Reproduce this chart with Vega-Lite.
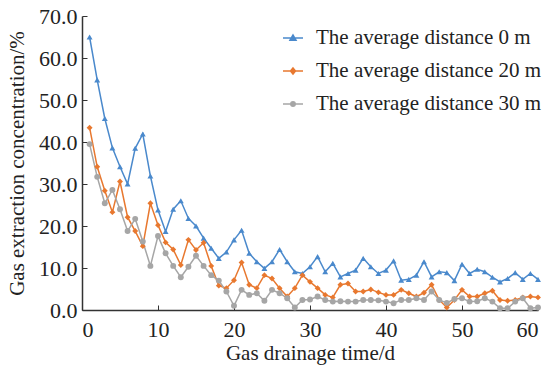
{
  "$schema": "https://vega.github.io/schema/vega-lite/v6.json",
  "width": 456,
  "height": 294,
  "autosize": {"type": "none"},
  "padding": {"left": 82, "top": 16, "right": 13, "bottom": 61},
  "background": "white",
  "config": {
    "view": {"stroke": null},
    "font": "Liberation Serif",
    "axis": {
      "grid": false,
      "domainColor": "#333333",
      "tickColor": "#333333",
      "domainWidth": 1.5,
      "labelFont": "Liberation Serif",
      "labelFontSize": 22,
      "labelColor": "#222222",
      "titleFont": "Liberation Serif",
      "titleFontSize": 21,
      "titleFontWeight": "normal",
      "titleColor": "#222222"
    }
  },
  "data": {
    "values": [
      {"d":1,"a":65,"b":43.4,"c":39.5},
      {"d":2,"a":54.8,"b":34.1,"c":31.7},
      {"d":3,"a":45.6,"b":28.4,"c":25.4},
      {"d":4,"a":38.6,"b":23.3,"c":28.6},
      {"d":5,"a":34.1,"b":30.6,"c":24},
      {"d":6,"a":30,"b":22.1,"c":18.8},
      {"d":7,"a":38.5,"b":18.8,"c":21.7},
      {"d":8,"a":41.9,"b":15.2,"c":16.3},
      {"d":9,"a":31.9,"b":25.4,"c":10.5},
      {"d":10,"a":23.8,"b":20.2,"c":17.6},
      {"d":11,"a":18.7,"b":16.1,"c":13.5},
      {"d":12,"a":24,"b":14.4,"c":10.5},
      {"d":13,"a":26,"b":10.7,"c":7.8},
      {"d":14,"a":21.8,"b":16.7,"c":10.3},
      {"d":15,"a":20,"b":14.3,"c":12.9},
      {"d":16,"a":17.1,"b":16,"c":10.5},
      {"d":17,"a":14.7,"b":10.5,"c":8.3},
      {"d":18,"a":12.3,"b":5.8,"c":7},
      {"d":19,"a":13.8,"b":5.2,"c":4.4},
      {"d":20,"a":16.7,"b":7.1,"c":1},
      {"d":21,"a":19,"b":11.3,"c":4.8},
      {"d":22,"a":13.5,"b":6,"c":3.6},
      {"d":23,"a":11.5,"b":5.2,"c":4},
      {"d":24,"a":9.9,"b":8.3,"c":2.2},
      {"d":25,"a":11.5,"b":7.5,"c":4.8},
      {"d":26,"a":14.4,"b":5.2,"c":4},
      {"d":27,"a":11.5,"b":3.2,"c":2.8},
      {"d":28,"a":9.1,"b":5.2,"c":0.6},
      {"d":29,"a":8.7,"b":8.3,"c":2.4},
      {"d":30,"a":10.3,"b":6.7,"c":2.5},
      {"d":31,"a":12.7,"b":5.2,"c":3.2},
      {"d":32,"a":9.1,"b":3.6,"c":2.4},
      {"d":33,"a":11.1,"b":3,"c":2},
      {"d":34,"a":7.9,"b":6,"c":2.1},
      {"d":35,"a":8.7,"b":6.3,"c":2},
      {"d":36,"a":9.5,"b":4.4,"c":2},
      {"d":37,"a":12.3,"b":4.4,"c":2.4},
      {"d":38,"a":10.3,"b":4.9,"c":2.4},
      {"d":39,"a":8.7,"b":4.2,"c":2.3},
      {"d":40,"a":9.5,"b":3.6,"c":2},
      {"d":41,"a":11.7,"b":3.6,"c":1.6},
      {"d":42,"a":7.1,"b":4.8,"c":2.4},
      {"d":43,"a":7.3,"b":4,"c":2.4},
      {"d":44,"a":8.3,"b":3.2,"c":2.8},
      {"d":45,"a":11.5,"b":4.1,"c":2.4},
      {"d":46,"a":7.9,"b":6,"c":4.4},
      {"d":47,"a":9.1,"b":2.4,"c":2.4},
      {"d":48,"a":8.9,"b":0.6,"c":1.7},
      {"d":49,"a":7,"b":2.4,"c":2.6},
      {"d":50,"a":10.9,"b":4.8,"c":2.8},
      {"d":51,"a":8.7,"b":3.2,"c":2},
      {"d":52,"a":9.7,"b":3.2,"c":2.1},
      {"d":53,"a":9.1,"b":4,"c":2.8},
      {"d":54,"a":7.8,"b":4.6,"c":2},
      {"d":55,"a":6.7,"b":2.4,"c":0.4},
      {"d":56,"a":7.5,"b":2.2,"c":0.4},
      {"d":57,"a":8.9,"b":2.4,"c":2},
      {"d":58,"a":7.3,"b":3,"c":2.8},
      {"d":59,"a":8.7,"b":3.2,"c":0.4},
      {"d":60,"a":7.3,"b":3,"c":0.6}
    ]
  },
  "transform": [
    {"fold": ["a", "b", "c"], "as": ["k", "value"]},
    {"lookup": "k", "from": {"data": {"values": [
      {"k": "a", "series": "The average distance 0 m"},
      {"k": "b", "series": "The average distance 20 m"},
      {"k": "c", "series": "The average distance 30 m"}
    ]}, "key": "k", "fields": ["series"]}}
  ],
  "encoding": {
    "x": {
      "field": "d", "type": "quantitative",
      "scale": {"domain": [0, 60], "nice": false},
      "axis": {"values": [0,10,20,30,40,50,60], "tickSize": -5, "labelPadding": 14, "labelFont": "Liberation Serif", "title": "Gas drainage time/d", "titlePadding": 2}
    },
    "y": {
      "field": "value", "type": "quantitative",
      "scale": {"domain": [0, 70], "nice": false},
      "axis": {"values": [0,10,20,30,40,50,60,70], "format": ".1f", "tickSize": -5, "labelPadding": 10, "labelFont": "Liberation Serif", "title": "Gas extraction concentration/%", "titlePadding": 11}
    },
    "color": {
      "field": "series", "type": "nominal",
      "scale": {"domain": ["The average distance 0 m", "The average distance 20 m", "The average distance 30 m"], "range": ["#4A89CC", "#E8782F", "#A6A6A6"]},
      "legend": {
        "orient": "none", "legendX": 200, "legendY": 11, "title": null,
        "labelFont": "Liberation Serif", "labelFontSize": 21, "labelColor": "#222222", "labelLimit": 0,
        "symbolSize": 400, "symbolStrokeWidth": 1.5, "rowPadding": 12, "labelOffset": 12,
        "encode": {"symbols": {"update": {"shape": {"signal": "datum.value === 'The average distance 0 m' ? 'M-1,0H1M-0.3,0.22L0,-0.3L0.3,0.22Z' : datum.value === 'The average distance 20 m' ? 'M-1,0H1M0,-0.3L0.25,0L0,0.3L-0.25,0Z' : 'M-1,0H1M-0.22,0A0.22,0.22,0,1,0,0.22,0A0.22,0.22,0,1,0,-0.22,0Z'"}, "fill": {"scale": "color", "field": "value"}}}}
      }
    }
  },
  "layer": [
    {"mark": {"type": "line", "strokeWidth": 1.5}},
    {
      "mark": {"type": "point", "filled": true, "size": 35, "opacity": 1},
      "encoding": {
        "shape": {"field": "k", "type": "nominal", "scale": {"domain": ["a", "b", "c"], "range": ["triangle-up", "diamond", "circle"]}, "legend": null}
      }
    }
  ]
}
